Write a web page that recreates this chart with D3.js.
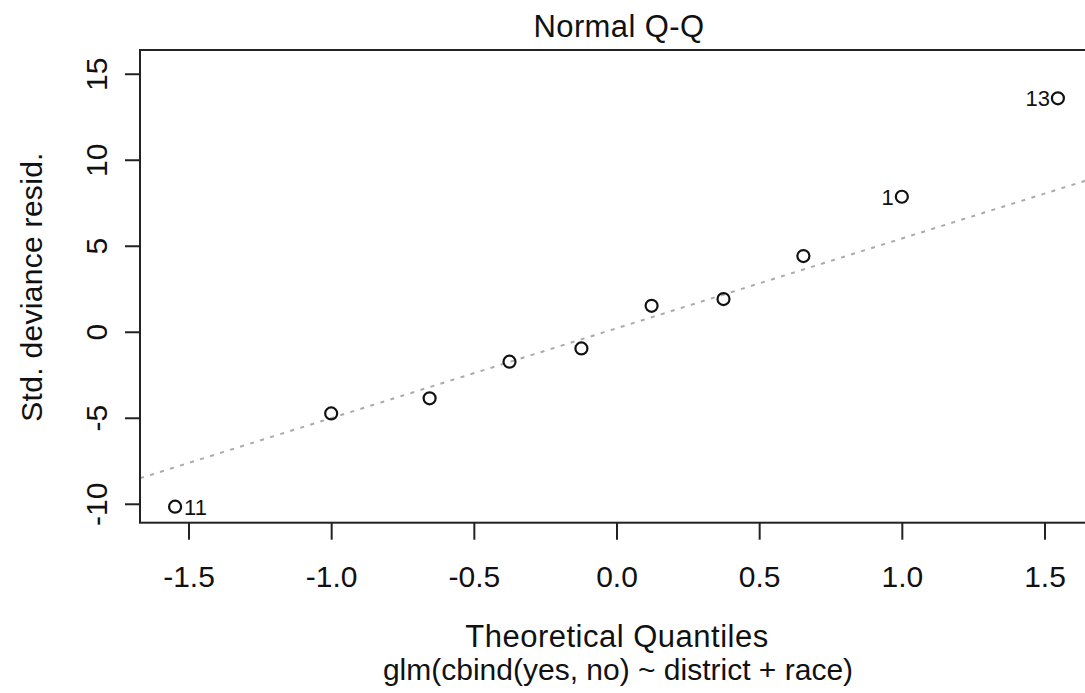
<!DOCTYPE html>
<html>
<head>
<meta charset="utf-8">
<script src="https://cdn.jsdelivr.net/npm/d3@7"></script>
<style>
  body { margin: 0; background: #fff; }
  svg { display: block; font-family: "Liberation Sans", Arial, sans-serif; }
</style>
</head>
<body>
<script>
// theoretical quantiles and residuals
const quantiles = [-1.547, -1.0, -0.655, -0.375, -0.123, 0.123, 0.375, 0.655, 1.0, 1.547];
const residuals = [-10.17, -4.75, -3.87, -1.74, -0.97, 1.51, 1.90, 4.40, 7.85, 13.57];
const pointLabels = ["11", "", "", "", "", "", "", "", "1", "13"];
const xTicks = [-1.5, -1.0, -0.5, 0.0, 0.5, 1.0, 1.5];
const yTicks = [-10, -5, 0, 5, 10, 15];
// qq reference line
const lineIntercept = [0.2];
const lineSlope = [5.22];

const w = 1085;
const h = 693;
const padL = 140, padR = 1093, padT = 50, padB = 522.7;

const svg = d3.select("body").append("svg")
  .attr("width", w)
  .attr("height", h);

const xScale = d3.scaleLinear().domain([-1.67, 1.67]).range([padL, padR]);
const yScale = d3.scaleLinear().domain([-11.1, 16.38]).range([padB, padT]);

// reference line (dotted)
const xd = xScale.domain();
svg.append("line")
  .attr("x1", xScale(xd[0]))
  .attr("y1", yScale(lineIntercept[0] + lineSlope[0] * xd[0]))
  .attr("x2", xScale(xd[1]))
  .attr("y2", yScale(lineIntercept[0] + lineSlope[0] * xd[1]))
  .attr("stroke", "#aaa")
  .attr("stroke-width", 2)
  .attr("stroke-dasharray", "4,6.5");

// points
const pts = quantiles.map((q, i) => ({ q: q, r: residuals[i], label: pointLabels[i] }));

svg.selectAll("circle")
  .data(pts)
  .enter()
  .append("circle")
  .attr("cx", d => xScale(d.q))
  .attr("cy", d => yScale(d.r))
  .attr("r", 6)
  .attr("fill", "none")
  .attr("stroke", "#111")
  .attr("stroke-width", 2.2);

svg.selectAll("text.pl")
  .data(pts.filter(d => d.label))
  .enter()
  .append("text")
  .attr("class", "pl")
  .attr("x", d => d.q < 0 ? xScale(d.q) + 9 : xScale(d.q) - 8)
  .attr("y", d => yScale(d.r))
  .attr("dy", "0.36em")
  .attr("text-anchor", d => d.q < 0 ? "start" : "end")
  .attr("font-size", 22)
  .attr("fill", "#111")
  .text(d => d.label);

// box
svg.append("rect")
  .attr("x", padL)
  .attr("y", padT)
  .attr("width", padR - padL)
  .attr("height", padB - padT)
  .attr("fill", "none")
  .attr("stroke", "#222")
  .attr("stroke-width", 2);

// x axis
const xAxis = d3.axisBottom(xScale)
  .tickValues(xTicks)
  .tickFormat(d3.format(".1f"))
  .tickSize(17)
  .tickSizeOuter(0);
const gx = svg.append("g")
  .attr("transform", "translate(0," + padB + ")")
  .call(xAxis);
gx.select(".domain").remove();
gx.selectAll("line").attr("stroke", "#222").attr("stroke-width", 2);
gx.selectAll("text")
  .attr("y", 64)
  .attr("dy", 0)
  .attr("font-size", 30)
  .attr("fill", "#111")
  .attr("font-family", "Liberation Sans, Arial, sans-serif")
  .text(d => d3.format(".1f")(d).replace("−", "-"));

// y axis
const yAxis = d3.axisLeft(yScale)
  .tickValues(yTicks)
  .tickSize(15)
  .tickSizeOuter(0);
const gy = svg.append("g")
  .attr("transform", "translate(" + padL + ",0)")
  .call(yAxis);
gy.select(".domain").remove();
gy.selectAll("line").attr("stroke", "#222").attr("stroke-width", 2);
gy.selectAll("text")
  .attr("x", 0)
  .attr("dy", 0)
  .attr("text-anchor", "middle")
  .attr("transform", "translate(-33,0) rotate(-90)")
  .attr("font-size", 30)
  .attr("fill", "#111")
  .attr("font-family", "Liberation Sans, Arial, sans-serif")
  .text(d => String(d).replace("−", "-"));

// titles
svg.append("text")
  .attr("x", 619)
  .attr("y", 37)
  .attr("text-anchor", "middle")
  .attr("font-size", 31)
  .attr("letter-spacing", 0.4)
  .attr("fill", "#111")
  .text("Normal Q-Q");

svg.append("text")
  .attr("x", 617)
  .attr("y", 647)
  .attr("text-anchor", "middle")
  .attr("font-size", 31)
  .attr("letter-spacing", 0.5)
  .attr("fill", "#111")
  .text("Theoretical Quantiles");

svg.append("text")
  .attr("x", 618)
  .attr("y", 680)
  .attr("text-anchor", "middle")
  .attr("font-size", 30)
  .attr("fill", "#111")
  .text("glm(cbind(yes, no) ~ district + race)");

svg.append("text")
  .attr("transform", "translate(42,287) rotate(-90)")
  .attr("text-anchor", "middle")
  .attr("font-size", 30)
  .attr("letter-spacing", 0.3)
  .attr("fill", "#111")
  .text("Std. deviance resid.");
</script>
</body>
</html>
